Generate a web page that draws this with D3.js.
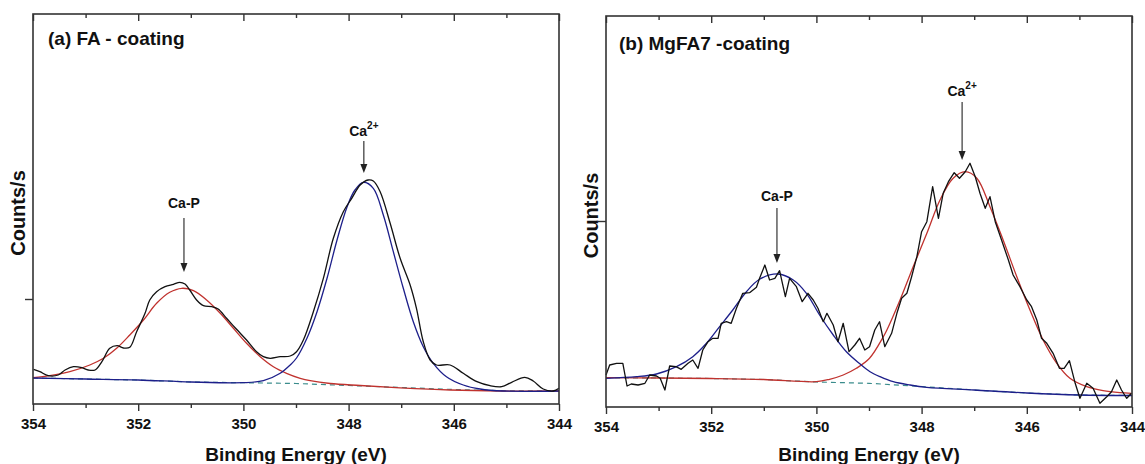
<!DOCTYPE html>
<html>
<head>
<meta charset="utf-8">
<script src="https://cdn.jsdelivr.net/npm/d3@7"></script>
<style>
  body { margin: 0; background: #fff; }
  text { font-family: "Liberation Sans", Arial, sans-serif; font-weight: bold; fill: #111; }
</style>
</head>
<body>
<div id="chart"></div>
<script>
// shared x axis ticks (binding energy, eV)
const xMajor = [354, 352, 350, 348, 346, 344];
const xMinor = [353, 351, 349, 347, 345];

// (a) FA - coating : [eV, counts/s]
const faExp = [[353.99,3188],[353.87,3092],[353.71,2932],[353.52,2960],[353.39,3160],[353.23,3292],[353.07,3252],[352.95,3160],[352.82,3160],[352.69,3492],[352.54,4028],[352.40,4132],[352.28,4040],[352.16,4068],[352.03,4692],[351.87,5428],[351.78,5960],[351.65,6292],[351.49,6492],[351.33,6588],[351.21,6668],[351.11,6600],[351.02,6360],[350.89,5960],[350.76,5732],[350.60,5692],[350.48,5600],[350.32,5228],[350.13,4788],[349.94,4360],[349.75,3892],[349.62,3692],[349.49,3628],[349.30,3692],[349.11,3720],[348.99,3892],[348.86,4360],[348.67,5492],[348.48,6828],[348.29,8428],[348.10,9492],[347.94,10028],[347.78,10560],[347.63,10760],[347.53,10720],[347.40,10292],[347.21,9028],[347.02,7628],[346.83,6560],[346.71,5628],[346.58,4292],[346.45,3560],[346.33,3360],[346.07,3360],[345.82,3028],[345.56,2692],[345.31,2532],[345.09,2492],[344.90,2668],[344.65,2868],[344.49,2720],[344.30,2400],[344.11,2320],[344.00,2428]];
const faBase = [[354,2840],[353,2800],[352,2760],[351,2680],[350,2652],[349,2620],[348,2540],[347,2460],[346,2380],[345,2328],[344,2320]];
const faCaP = [[354,2850],[353.68,2932],[353.30,3092],[352.92,3360],[352.66,3628],[352.41,4028],[352.16,4560],[351.90,5160],[351.65,5828],[351.40,6268],[351.17,6428],[350.95,6332],[350.70,5960],[350.44,5428],[350.19,4828],[349.94,4228],[349.68,3692],[349.43,3292],[349.18,3028],[348.92,2828],[348.73,2732],[348.35,2620],[347.78,2540],[347.02,2448],[346.07,2360],[345.12,2320],[344,2320]];
const faCa2 = [[354,2840],[353,2800],[352,2760],[351,2680],[350,2652],[349.62,2732],[349.30,3028],[349.11,3360],[348.99,3640],[348.79,4440],[348.60,5492],[348.41,6828],[348.22,8360],[348.03,9680],[347.88,10360],[347.72,10668],[347.53,10428],[347.34,9360],[347.15,7892],[346.96,6428],[346.77,5092],[346.58,4092],[346.39,3428],[346.14,2892],[345.82,2560],[345.50,2400],[345.06,2320],[344,2320]];
const faYDomain = [1800, 17400];
const faYTicks = [6000];
const faNotes = [
  { label: "Ca-P", sup: "", ev: 351.13, text: 9640, from: 9240, to: 7080 },
  { label: "Ca", sup: "2+", ev: 347.71, text: 12520, from: 12320, to: 11040 }
];

// (b) MgFA7 -coating : [eV, counts/s]
const mgExp = [[354.00,1460],[353.93,1560],[353.80,1577],[353.68,1577],[353.60,1350],[353.52,1370],[353.39,1360],[353.26,1377],[353.17,1460],[353.04,1450],[352.97,1427],[352.88,1310],[352.79,1550],[352.67,1543],[352.57,1517],[352.44,1577],[352.35,1610],[352.25,1527],[352.16,1710],[352.06,1793],[351.97,1827],[351.87,1827],[351.81,1977],[351.71,1993],[351.62,1977],[351.52,2127],[351.40,2277],[351.27,2283],[351.14,2337],[351.08,2427],[350.98,2560],[350.89,2410],[350.79,2427],[350.70,2503],[350.59,2243],[350.51,2427],[350.38,2343],[350.27,2193],[350.16,2277],[350.06,2210],[349.97,2127],[349.87,1993],[349.80,2077],[349.68,1960],[349.59,1793],[349.49,1977],[349.38,1693],[349.27,1760],[349.18,1827],[349.08,1710],[348.99,1743],[348.89,1910],[348.80,1993],[348.70,1743],[348.57,1877],[348.47,2077],[348.38,2227],[348.28,2277],[348.19,2443],[348.09,2643],[348.00,2893],[347.90,2993],[347.79,3343],[347.68,3027],[347.59,3277],[347.49,3393],[347.38,3483],[347.28,3427],[347.17,3493],[347.08,3577],[346.98,3443],[346.89,3277],[346.79,3127],[346.70,3243],[346.60,2993],[346.48,2810],[346.35,2610],[346.26,2460],[346.13,2343],[346.00,2210],[345.91,2143],[345.81,2010],[345.72,1827],[345.62,1777],[345.50,1677],[345.38,1527],[345.29,1527],[345.19,1603],[345.08,1377],[344.99,1227],[344.86,1377],[344.74,1327],[344.61,1177],[344.48,1243],[344.39,1293],[344.29,1410],[344.20,1310],[344.10,1227],[344.01,1277]];
const mgBase = [[354,1433],[353,1430],[352,1425],[351,1415],[350,1390],[349,1377],[348,1345],[347,1310],[346,1280],[345,1260],[344,1255]];
const mgCaP = [[354,1427],[353.42,1443],[353.04,1470],[352.66,1543],[352.35,1643],[352.09,1777],[351.84,1943],[351.59,2110],[351.33,2293],[351.08,2417],[350.73,2470],[350.44,2410],[350.19,2277],[349.94,2060],[349.68,1860],[349.43,1693],[349.18,1575],[348.98,1493],[348.79,1443],[348.54,1393],[348.22,1360],[347.90,1337],[347,1310],[346,1280],[345,1260],[344,1255]];
const mgCa2 = [[354,1433],[353,1430],[352,1425],[351,1415],[350.00,1393],[349.75,1417],[349.49,1460],[349.24,1527],[348.99,1627],[348.73,1840],[348.66,1910],[348.41,2210],[348.16,2543],[347.90,2877],[347.65,3210],[347.40,3427],[347.17,3493],[346.95,3427],[346.70,3143],[346.45,2810],[346.19,2443],[345.94,2110],[345.69,1810],[345.43,1577],[345.18,1427],[344.86,1343],[344.55,1303],[344.23,1283],[344.01,1277]];
const mgYDomain = [1140, 5050];
const mgYTicks = [3000];
const mgNotes = [
  { label: "Ca-P", sup: "", ev: 350.75, text: 3200, from: 3130, to: 2580 },
  { label: "Ca", sup: "2+", ev: 347.23, text: 4250, from: 4190, to: 3610 }
];

const RED = "#c0322e", BLUE = "#1d1f8a", TEAL = "#3a8c8c";

const svg = d3.select("#chart").append("svg")
  .attr("width", 1145).attr("height", 464);

const panels = [
  { title: "(a) FA - coating", left: 33, top: 14, width: 526, height: 390, titleX: 15, titleY: 31,
    exp: faExp, base: faBase, fits: [[faCaP, RED], [faCa2, BLUE]], yDomain: faYDomain, yTicks: faYTicks,
    notes: faNotes, smooth: true },
  { title: "(b) MgFA7 -coating", left: 606, top: 16, width: 526, height: 391, titleX: 13, titleY: 34,
    exp: mgExp, base: mgBase, fits: [[mgCa2, RED], [mgCaP, BLUE]], yDomain: mgYDomain, yTicks: mgYTicks,
    notes: mgNotes, smooth: false }
];

panels.forEach(function (p) {
  const g = svg.append("g").attr("transform", "translate(" + p.left + "," + p.top + ")");
  const x = d3.scaleLinear().domain([354, 344]).range([0, p.width]);
  const y = d3.scaleLinear().domain(p.yDomain).range([p.height, 0]);

  const line = d3.line().x(d => x(d[0])).y(d => y(d[1]));
  const smoothLine = d3.line().x(d => x(d[0])).y(d => y(d[1])).curve(d3.curveCatmullRom.alpha(0.5));

  // baseline (dashed)
  g.append("path").datum(p.base).attr("d", line)
    .attr("fill", "none").attr("stroke", TEAL).attr("stroke-width", 1.2)
    .attr("stroke-dasharray", "5,4");

  // fitted peaks
  p.fits.forEach(function (f) {
    g.append("path").datum(f[0]).attr("d", smoothLine)
      .attr("fill", "none").attr("stroke", f[1]).attr("stroke-width", 1.3);
  });

  // measured spectrum
  g.append("path").datum(p.exp).attr("d", p.smooth ? smoothLine : line)
    .attr("fill", "none").attr("stroke", "#111").attr("stroke-width", 1.3)
    .attr("stroke-linejoin", "round");

  // axes
  const bottom = g.append("g").attr("transform", "translate(0," + p.height + ")")
    .call(d3.axisBottom(x).tickValues(xMajor).tickSize(7).tickPadding(7).tickFormat(d3.format("d")));
  bottom.selectAll("text").attr("font-size", 15).attr("font-family", null);
  g.append("g").attr("transform", "translate(0," + p.height + ")")
    .call(d3.axisBottom(x).tickValues(xMinor).tickSize(4).tickFormat(""));
  g.append("g").call(d3.axisTop(x).tickValues(xMajor).tickSize(-7).tickFormat(""));
  g.append("g").call(d3.axisTop(x).tickValues(xMinor).tickSize(-4).tickFormat(""));
  g.append("g").call(d3.axisLeft(y).tickValues(p.yTicks).tickSize(8).tickFormat(""));

  g.selectAll(".domain").remove();
  g.selectAll(".tick line").attr("stroke", "#333").attr("stroke-width", 1.4);

  g.append("rect").attr("width", p.width).attr("height", p.height)
    .attr("fill", "none").attr("stroke", "#333").attr("stroke-width", 1.6);

  // labels
  g.append("text").attr("x", p.titleX).attr("y", p.titleY).attr("font-size", 19).text(p.title);
  g.append("text").attr("x", p.width / 2).attr("y", 464 - p.top - 3)
    .attr("text-anchor", "middle").attr("font-size", 19).text("Binding Energy (eV)");
  g.append("text").attr("transform", "translate(-8," + (p.height / 2 + 4) + ") rotate(-90)")
    .attr("text-anchor", "middle").attr("font-size", 20).text("Counts/s");

  // peak annotations
  p.notes.forEach(function (n) {
    const t = g.append("text").attr("x", x(n.ev)).attr("y", y(n.text))
      .attr("text-anchor", "middle").attr("font-size", 14).text(n.label);
    if (n.sup) t.append("tspan").attr("dy", -7).attr("font-size", 10).text(n.sup);
    g.append("line").attr("x1", x(n.ev)).attr("x2", x(n.ev))
      .attr("y1", y(n.from)).attr("y2", y(n.to) - 7)
      .attr("stroke", "#222").attr("stroke-width", 1.1);
    const tx = x(n.ev), ty = y(n.to);
    g.append("path").attr("d", "M" + tx + "," + ty + "L" + (tx - 3.5) + "," + (ty - 9) + "L" + (tx + 3.5) + "," + (ty - 9) + "Z")
      .attr("fill", "#222");
  });
});
</script>
</body>
</html>
